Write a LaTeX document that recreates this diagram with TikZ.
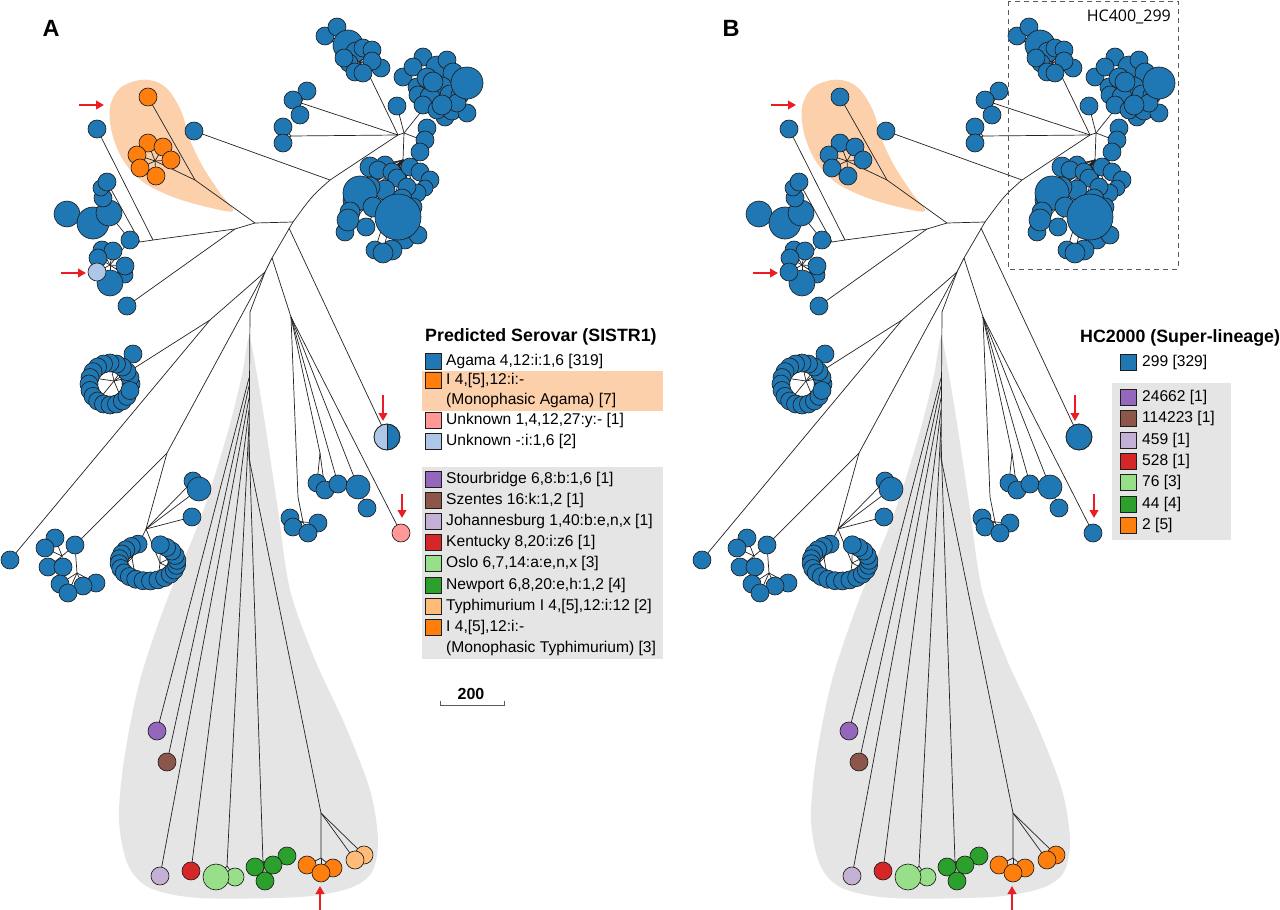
\documentclass[tikz,border=0pt]{standalone}
\usepackage{fontspec}
\setmainfont{Liberation Sans}
\newfontfamily\hcfont{Open Sans}
\usetikzlibrary{arrows.meta}
\definecolor{tBlue}{HTML}{1F77B4}
\definecolor{tOrange}{HTML}{FF7F0E}
\definecolor{tLOrange}{HTML}{FFBB78}
\definecolor{tGreen}{HTML}{2CA02C}
\definecolor{tLGreen}{HTML}{98DF8A}
\definecolor{tRed}{HTML}{D62728}
\definecolor{tPurple}{HTML}{9467BD}
\definecolor{tBrown}{HTML}{8C564B}
\definecolor{tLilac}{HTML}{C5B0D5}
\definecolor{tPink}{HTML}{FF9896}
\definecolor{tLBlue}{HTML}{AEC7E8}
\definecolor{peach}{RGB}{252,208,170}
\definecolor{fanGrey}{RGB}{229,229,229}
\definecolor{outC}{RGB}{30,30,30}
\definecolor{lineC}{RGB}{35,35,35}
\definecolor{arrowRed}{RGB}{235,28,36}
\definecolor{dashC}{RGB}{90,90,90}
\colorlet{cmono}{tOrange}
\colorlet{clb}{tLBlue}
\colorlet{cpink}{tPink}
\colorlet{chalfL}{tLBlue}
\colorlet{clor}{tLOrange}
\pgfdeclarelayer{back}
\pgfdeclarelayer{lines}
\pgfsetlayers{back,lines,main}
\newif\ifhalfsplit
\tikzset{
  leaf/.style={circle, draw=outC, line width=0.65pt, fill=#1, minimum size=18pt, inner sep=0pt, outer sep=0pt},
  conn/.style={draw=lineC, line width=0.7pt},
  redarrow/.style={draw=arrowRed, line width=2.4pt, -{Triangle[length=8pt,width=8.5pt]}},
  legsq/.style={draw=outC, line width=0.6pt, fill=#1, minimum size=16pt, inner sep=0pt},
  legtxt/.style={anchor=west, inner sep=0pt, font=\fontsize{15.6}{18}\selectfont},
  legtitle/.style={anchor=west, inner sep=0pt, font=\fontsize{17.8}{20}\selectfont\bfseries},
  panel/.style={inner sep=0pt, font=\fontsize{23.5}{26}\selectfont\bfseries},
}
\newcommand\drawtree[1]{%
\begin{pgfonlayer}{back}
 \fill[peach] plot[smooth cycle, tension=0.55] coordinates {(233,211) (207,207) (173,197) (143,182) (123,160) (112,133) (110,107) (120,88) (140,80) (157,82) (170,92) (182,113) (190,140) (203,167) (220,193)};
 \fill[fanGrey] plot[smooth cycle, tension=0.5] coordinates {(249,338) (242,375) (227,435) (200,520) (167,600) (140,680) (124,760) (119,820) (128,865) (150,888) (200,898) (300,897) (350,888) (372,872) (378,840) (370,790) (345,725) (315,660) (290,590) (278,510) (266,430) (257,375)};
\end{pgfonlayer}
% junctions
\coordinate (#1R1) at (255,223);
\coordinate (#1R2) at (293,222);
\coordinate (#1R2b) at (289,228);
\coordinate (#1U1) at (330,180);
\coordinate (#1H) at (398,135);
\coordinate (#1H2) at (404,133);
\coordinate (#1O1) at (195,180);
\coordinate (#1Oh) at (155,161);
\coordinate (#1L0) at (235,229);
\coordinate (#1L1) at (153,240);
\coordinate (#1L2) at (140,242);
\coordinate (#1ULh) at (110,215);
\coordinate (#1LLh) at (110,265);
\coordinate (#1K1) at (272,258);
\coordinate (#1K2) at (265,272);
\coordinate (#1K3) at (291,317);
\coordinate (#1K4) at (250,312);
\coordinate (#1J4) at (210,320);
\coordinate (#1RGh) at (114,381);
\coordinate (#1J5) at (167,453);
\coordinate (#1LRh) at (146,529);
\coordinate (#1LRa) at (132,558);
\coordinate (#1LRb) at (160,563);
\coordinate (#1BLh1) at (62,556);
\coordinate (#1BLh2) at (77,573);
\coordinate (#1Pa) at (301,103);
\coordinate (#1Pb) at (291,136);
\coordinate (#1Tc) at (360,62);
\coordinate (#1Tc0) at (370,77);
\coordinate (#1Rt0) at (420,113);
\coordinate (#1Rt) at (442,90);
\coordinate (#1Sc) at (417,138);
\coordinate (#1Bc) at (403,160);
\coordinate (#1Ra) at (298,497);
\coordinate (#1RaH) at (303,522);
\coordinate (#1Rb) at (320,453);
\coordinate (#1F1) at (249,378);
\coordinate (#1F2) at (249,386);
\coordinate (#1F3) at (249,398);
\coordinate (#1F4) at (249,410);
\coordinate (#1F5) at (249,424);
\coordinate (#1F6) at (249,440);
\coordinate (#1F7) at (249,458);
\coordinate (#1Gg) at (227,866);
\coordinate (#1Gh) at (263,862);
\coordinate (#1Oj) at (321,813);
\coordinate (#1OjH) at (321,858);
% single leaves
\node[leaf=tBlue] (#1n1) at (97,129) {};
\node[leaf=tBlue] (#1n2) at (194,131) {};
\node[leaf=tBlue] (#1n3) at (127,306) {};
\node[leaf=tBlue] (#1n5) at (10,560) {};
\node[leaf=tBlue] (#1n7) at (397,106) {};
% mono cluster
\node[leaf=cmono] (#1mo0) at (148,97) {};
\foreach \px/\py [count=\i] in {148/143,163/147,137/155,171/160,140/168,156/176}
  {\node[leaf=cmono] (#1mo\i) at (\px,\py) {};}
% upper-left cluster
\foreach \px/\py/\rr [count=\i] in {67/214/13,93/223/16,109/213/13,103/198/9,101/188/8,107/182/9}
  {\node[leaf=tBlue, minimum size=\rr*2pt] (#1ul\i) at (\px,\py) {};}
\node[leaf=tBlue] (#1n4) at (130,240) {};
% lower-left cluster
\foreach \px/\py/\rr [count=\i] in {102/250/9,113/251/9,98/258/9,125/275/8,125/266/9,110/283/13}
  {\node[leaf=tBlue, minimum size=\rr*2pt] (#1ll\i) at (\px,\py) {};}
\node[leaf=clb] (#1lb) at (97,272) {};
% pairs
\foreach \px/\py [count=\i] in {307/91,293/100,300/115}
  {\node[leaf=tBlue] (#1pa\i) at (\px,\py) {};}
\foreach \px/\py [count=\i] in {283/127,283/143}
  {\node[leaf=tBlue] (#1pb\i) at (\px,\py) {};}
% top cluster
\foreach \px/\py/\rr [count=\i] in {325/36/9,337/27/9,348/45/15,356/52/10,363/48/9,372/50/9,381/68/9,372/61/9,349/63/9,344/58/9,355/72/9,363/73/9}
  {\node[leaf=tBlue, minimum size=\rr*2pt] (#1tc\i) at (\px,\py) {};}
% right top cluster
\foreach \px/\py/\rr [count=\i] in {403/77/9,423/57/9,413/67/9,437/67/11,447/60/9,453/73/10,417/87/9,427/78/10,442/87/10,418/95/9,430/97/10,423/105/9,433/82/10,450/95/10,460/95/9,445/117/9,437/110/9,452/110/10,467/113/9,457/103/9,442/105/10,467/83/16}
  {\node[leaf=tBlue, minimum size=\rr*2pt] (#1rt\i) at (\px,\py) {};}
% small cluster
\foreach \px/\py [count=\i] in {427/128,425/140,420/152}
  {\node[leaf=tBlue] (#1sm\i) at (\px,\py) {};}
% big cluster
\foreach \px/\py/\rr [count=\i] in {385/165/9,370/167/10,378/170/9,392/172/9,397/178/9,410/167/9,420/172/9,430/180/9,425/188/8,417/193/9,407/187/9,385/190/10,370/187/10,402/199/10,355/200/12,360/193/17,345/232/9,350/212/10,348/220/11,373/207/10,366/227/9,413/207/9,405/240/9,418/235/9,375/250/9,392/250/10,383/253/10,398/217/23}
  {\node[leaf=tBlue, minimum size=\rr*2pt] (#1bg\i) at (\px,\py) {};}
% upper ring cluster
\node[leaf=tBlue] (#1n6) at (133,354) {};
\foreach \ang [count=\i] in {0,18,...,342}
  {\node[leaf=tBlue] (#1rg\i) at ({110+21*cos(\ang)},{384-21*sin(\ang)}) {};}
% bottom-left cluster
\foreach \px/\py [count=\i] in {75/545,55/538,45/548,48/567,63/567,60/584,96/583,83/586,68/593}
  {\node[leaf=tBlue] (#1bl\i) at (\px,\py) {};}
% lower ring cluster
\node[leaf=tBlue] (#1n8) at (192,517) {};
\node[leaf=tBlue] (#1n9) at (193,481) {};
\node[leaf=tBlue, minimum size=24pt] (#1n10) at (199,489) {};
\foreach \ang [count=\i] in {110,125,...,425}
  {\node[leaf=tBlue] (#1lr\i) at ({148+29*cos(\ang)},{562-19*sin(\ang)}) {};}
% right subtree
\foreach \px/\py [count=\i] in {290/518,318/523,293/527,308/533}
  {\node[leaf=tBlue] (#1ra\i) at (\px,\py) {};}
\node[leaf=tBlue] (#1rb1) at (317,483) {};
\node[leaf=tBlue] (#1rb2) at (325,490) {};
\node[leaf=tBlue] (#1rb3) at (338,484) {};
\node[leaf=tBlue] (#1rd) at (367,508) {};
\node[leaf=tBlue, minimum size=24pt] (#1rbig) at (358,487) {};
\node[leaf=cpink] (#1pk) at (401,533) {};
% half node
\node[leaf=tBlue, minimum size=26pt] (#1hf) at (387,437) {};
\begin{scope}
 \clip (370,420) rectangle (387,455);
 \fill[chalfL] (#1hf.center) circle[radius=12.6pt];
\end{scope}
\draw[draw=outC, line width=0.65pt] (#1hf.center) circle[radius=13pt];
\ifhalfsplit \draw[draw=outC, line width=0.65pt] (#1hf.north) -- (#1hf.south); \fi
% fan leaves
\node[leaf=tPurple] (#1fp) at (157,731) {};
\node[leaf=tBrown] (#1fb) at (167,762) {};
\node[leaf=tLilac] (#1fl) at (160,876) {};
\node[leaf=tRed] (#1fr) at (191,871) {};
\node[leaf=tLGreen] (#1fg2) at (235,877) {};
\node[leaf=tLGreen, minimum size=26pt] (#1fg1) at (216,877) {};
\foreach \px/\py [count=\i] in {287/856,255/867,273/865,265/881}
  {\node[leaf=tGreen] (#1fd\i) at (\px,\py) {};}
\foreach \px/\py [count=\i] in {333/868,307/865,321/873}
  {\node[leaf=tOrange] (#1fo\i) at (\px,\py) {};}
\node[leaf=clor] (#1fy2) at (364,855) {};
\node[leaf=clor] (#1fy1) at (355,860) {};
% connectors
\begin{pgfonlayer}{lines}
 \draw[conn] (#1R1) -- (#1R2);
 \draw[conn] (#1R2) .. controls (312,196) .. (#1U1) -- (#1H) -- (#1H2);
 \draw[conn] (#1U1) -- (#1n2);
 \draw[conn] (#1H) -- (#1Pa);
 \foreach \i in {1,2,3} \draw[conn] (#1Pa) -- (#1pa\i);
 \draw[conn] (#1H) -- (#1Pb);
 \foreach \i in {1,2} \draw[conn] (#1Pb) -- (#1pb\i);
 \draw[conn] (#1H) -- (#1Tc0) -- (#1Tc);
 \foreach \i in {1,...,12} \draw[conn] (#1Tc) -- (#1tc\i.center);
 \draw[conn] (#1H2) -- (#1n7);
 \draw[conn] (#1H2) -- (#1Rt0) -- (#1Rt);
 \foreach \i in {1,...,22} \draw[conn] (#1Rt) -- (#1rt\i.center);
 \draw[conn] (#1H2) -- (#1Sc);
 \foreach \i in {1,2,3} \draw[conn] (#1Sc) -- (#1sm\i);
 \draw[conn] (#1H2) -- (#1Bc);
 \foreach \i in {1,...,28} \draw[conn] (#1Bc) -- (#1bg\i.center);
 \draw[conn] (#1R1) -- (#1O1) -- (#1mo0);
 \draw[conn] (#1O1) -- (#1Oh);
 \foreach \i in {1,...,6} \draw[conn] (#1Oh) -- (#1mo\i.center);
 \draw[conn] (#1R1) -- (#1L0) -- (#1L1) -- (#1L2) -- (#1n4);
 \draw[conn] (#1L0) -- (#1n3);
 \draw[conn] (#1L1) -- (#1n1);
 \draw[conn] (#1L2) -- (#1ul6);
 \draw[conn] (#1n4) -- (#1ULh);
 \foreach \i in {1,...,6} \draw[conn] (#1ULh) -- (#1ul\i.center);
 \draw[conn] (#1n4) -- (#1LLh);
 \foreach \i in {1,...,6} \draw[conn] (#1LLh) -- (#1ll\i.center);
 \draw[conn] (#1LLh) -- (#1lb.center);
 \draw[conn] (#1R2) -- (#1K1) -- (#1K2) -- (#1K4) -- (#1F7);
 \draw[conn] (#1R2b) -- (#1hf);
 \draw[conn] (#1K1) -- (#1K3);
 \draw[conn] (#1K2) -- (#1J4) -- (#1RGh);
 \draw[conn] (#1RGh) -- (#1n6);
 \foreach \i in {2,6,10,14,18} \draw[conn] (#1RGh) -- (#1rg\i.center);
 \draw[conn] (#1J4) -- (#1n5);
 \draw[conn] (#1K2) -- (#1J5) -- (#1LRh);
 \draw[conn] (#1LRh) -- (#1LRa);
 \draw[conn] (#1LRh) -- (#1LRb);
 \foreach \i in {1,4,7,10} \draw[conn] (#1LRa) -- (#1lr\i.center);
 \foreach \i in {13,16,19,22} \draw[conn] (#1LRb) -- (#1lr\i.center);
 \draw[conn] (#1LRh) -- (#1n8);
 \draw[conn] (#1LRh) -- (#1n9);
 \draw[conn] (#1LRh) -- (#1n10);
 \draw[conn] (#1J5) -- (#1bl1);
 \draw[conn] (#1bl1) -- (#1BLh1);
 \draw[conn] (#1bl1) -- (#1BLh2);
 \foreach \i in {2,...,5} \draw[conn] (#1BLh1) -- (#1bl\i.center);
 \foreach \i in {6,...,9} \draw[conn] (#1BLh2) -- (#1bl\i.center);
 \draw[conn] (#1K3) -- (#1Ra) -- (#1RaH);
 \foreach \i in {1,...,4} \draw[conn] (#1RaH) -- (#1ra\i.center);
 \draw[conn] (#1K3) -- (#1Rb) -- (#1rb1);
 \draw[conn] (#1Rb) -- (#1rb2);
 \draw[conn] (#1K3) -- (#1rb3);
 \draw[conn] (#1K3) -- (#1rbig.center) -- (#1rd);
 \draw[conn] (#1K3) -- (#1pk);
 \draw[conn] (#1F1) -- (#1fp);
 \draw[conn] (#1F2) -- (#1fb);
 \draw[conn] (#1F3) -- (#1fl);
 \draw[conn] (#1F4) -- (#1fr);
 \draw[conn] (#1F5) -- (#1Gg);
 \draw[conn] (#1Gg) -- (#1fg1.center);
 \draw[conn] (#1Gg) -- (#1fg2.center);
 \draw[conn] (#1F6) -- (#1Gh);
 \foreach \i in {1,...,4} \draw[conn] (#1Gh) -- (#1fd\i.center);
 \draw[conn] (#1F7) -- (#1Oj) -- (#1OjH);
 \foreach \i in {1,2,3} \draw[conn] (#1OjH) -- (#1fo\i.center);
 \draw[conn] (#1Oj) -- (#1fy1.center);
 \draw[conn] (#1Oj) -- (#1fy2.center);
\end{pgfonlayer}
% red arrows
\coordinate (#1a1s) at (79,105); \coordinate (#1a1e) at (104,105);
\coordinate (#1a2s) at (61,273); \coordinate (#1a2e) at (86,273);
\coordinate (#1a3s) at (383,395); \coordinate (#1a3e) at (383,421);
\coordinate (#1a4s) at (402,494); \coordinate (#1a4e) at (402,518);
\coordinate (#1a5s) at (320,911); \coordinate (#1a5e) at (320,886);
\draw[redarrow] (#1a1s) -- (#1a1e);
\draw[redarrow] (#1a2s) -- (#1a2e);
\draw[redarrow] (#1a3s) -- (#1a3e);
\draw[redarrow] (#1a4s) -- (#1a4e);
\draw[redarrow] (#1a5s) -- (#1a5e);
}
\begin{document}
\begin{tikzpicture}[x=1pt,y=-1pt]
\begin{pgfonlayer}{back}
\fill[white] (0,0) rectangle (1280,910);
\end{pgfonlayer}
\useasboundingbox (0,0) rectangle (1280,910);
% ---------- panel A ----------
\begin{scope}
 \halfsplittrue
 \drawtree{A}
\end{scope}
\node[panel] (labA) at (51,28) {A};
% legend A
\node[legtitle] (legAt) at (425,337) {Predicted Serovar (SISTR1)};
\fill[peach] (422,371) rectangle (663,411);
\fill[fanGrey] (422,467) rectangle (663,659);
\foreach \yy/\cc/\txt [count=\i] in {361/tBlue/{Agama 4,12:i:1,6 [319]}, 380/tOrange/{I 4,[5],12:i:-}, 420/tPink/{Unknown 1,4,12,27:y:- [1]}, 441/tLBlue/{Unknown -:i:1,6 [2]}, 479/tPurple/{Stourbridge 6,8:b:1,6 [1]}, 500/tBrown/{Szentes 16:k:1,2 [1]}, 521/tLilac/{Johannesburg 1,40:b:e,n,x [1]}, 542/tRed/{Kentucky 8,20:i:z6 [1]}, 563/tLGreen/{Oslo 6,7,14:a:e,n,x [3]}, 585/tGreen/{Newport 6,8,20:e,h:1,2 [4]}, 606/tLOrange/{Typhimurium I 4,[5],12:i:12 [2]}, 627/tOrange/{I 4,[5],12:i:-}}
 {\node[legsq=\cc] (legAs\i) at (433,\yy) {};
  \node[legtxt] (legAx\i) at (446,\yy) {\txt};}
\node[legtxt] (legAx13) at (446,400) {(Monophasic Agama) [7]};
\node[legtxt] (legAx14) at (446,648) {(Monophasic Typhimurium) [3]};
% scale bar
\node[inner sep=0pt, font=\fontsize{16}{18}\selectfont\bfseries] (scl) at (471,694) {200};
\coordinate (sb1) at (440,701);
\coordinate (sb2) at (440,705);
\coordinate (sb3) at (504,705);
\coordinate (sb4) at (504,701);
\draw[line width=0.7pt, draw=dashC] (sb1) -- (sb2) -- (sb3) -- (sb4);
% ---------- panel B ----------
\begin{scope}[shift={(692,0)}]
 \colorlet{cmono}{tBlue}
 \colorlet{clb}{tBlue}
 \colorlet{cpink}{tBlue}
 \colorlet{chalfL}{tBlue}
 \colorlet{clor}{tOrange}
 \halfsplitfalse
 \drawtree{B}
\end{scope}
\node[panel] (labB) at (731,28) {B};
\draw[draw=dashC, line width=0.8pt, dash pattern=on 5pt off 4pt] (1008,1) rectangle (1178,269);
\node[anchor=east, inner sep=0pt, font=\hcfont\fontsize{16}{18}\selectfont] (hc400) at (1171,17) {HC400\_299};
% legend B
\node[legtitle] (legBt) at (1080,338) {HC2000 (Super-lineage)};
\node[legsq=tBlue] (legBs0) at (1128,362) {};
\node[legtxt] (legBx0) at (1142,362) {299 [329]};
\fill[fanGrey] (1112,383) rectangle (1231,540);
\foreach \yy/\cc/\txt [count=\i] in {397/tPurple/{24662 [1]}, 418/tBrown/{114223 [1]}, 440/tLilac/{459 [1]}, 461/tRed/{528 [1]}, 482/tLGreen/{76 [3]}, 504/tGreen/{44 [4]}, 525/tOrange/{2 [5]}}
 {\node[legsq=\cc] (legBs\i) at (1128,\yy) {};
  \node[legtxt] (legBx\i) at (1142,\yy) {\txt};}
\end{tikzpicture}
\end{document}
